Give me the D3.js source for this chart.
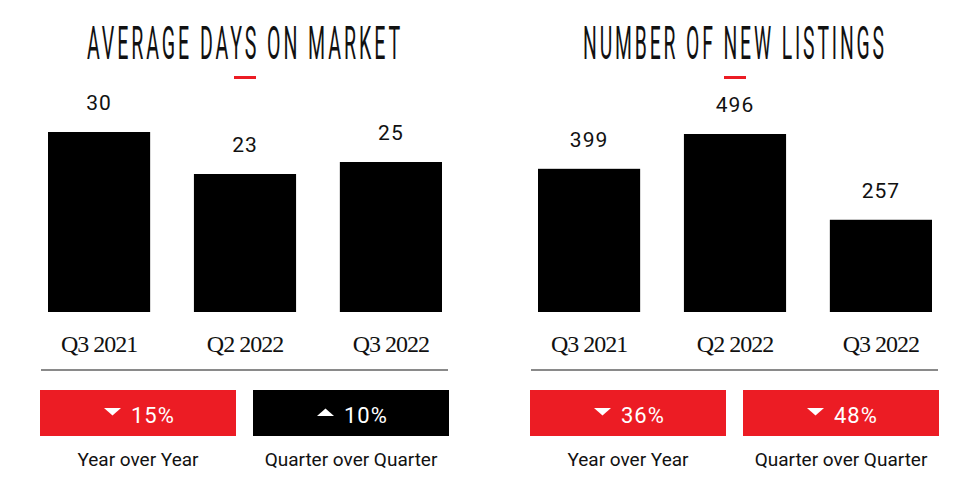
<!DOCTYPE html>
<html><head><meta charset="utf-8">
<script src="https://cdn.jsdelivr.net/npm/d3@7"></script>
<style>body{margin:0;background:#fff}svg{display:block}</style>
</head><body>
<svg id="c" width="980" height="490"></svg>
<script>
const categories = ["Q3 2021", "Q2 2022", "Q3 2022"];
const daysValues = [30, 23, 25];
const listingsValues = [399, 496, 257];
const titles = ["AVERAGE DAYS ON MARKET", "NUMBER OF NEW LISTINGS"];
const changeLabels = ["Year over Year", "Quarter over Quarter"];
const daysChanges = [{dir: "down", pct: "15%"}, {dir: "up", pct: "10%"}];
const listingsChanges = [{dir: "down", pct: "36%"}, {dir: "down", pct: "48%"}];

const RED = "#ec1c24";
const svg = d3.select("#c");

const panels = [
  {title: titles[0], values: daysValues, max: 30, changes: daysChanges, dx: 0},
  {title: titles[1], values: listingsValues, max: 496, changes: listingsChanges, dx: 490}
];

panels.forEach((p, pi) => {
  const g = svg.append("g").attr("transform", `translate(${p.dx},0)`);
  const titleW = pi === 0 ? 316 : 304;

  // title
  const t = g.append("text")
    .attr("font-family", "Roboto, 'DejaVu Sans', sans-serif")
    .attr("font-weight", 400)
    .attr("font-size", 47)
    .attr("letter-spacing", "7px")
    .attr("text-anchor", "middle")
    .attr("fill", "#111")
    .text(p.title);
  const w = t.node().getComputedTextLength();
  t.attr("transform", `translate(245,58.5) scale(${titleW / w},1)`);

  // red underline
  g.append("rect").attr("x", 234).attr("y", 76).attr("width", 22).attr("height", 3).attr("fill", RED);

  const x = d3.scaleBand().domain(categories).range([48, 442]).paddingInner(0.3).paddingOuter(0);
  const y = d3.scaleLinear().domain([0, p.max]).range([312, pi === 0 ? 132 : 134]);

  g.selectAll("rect.bar").data(p.values).join("rect")
    .attr("class", "bar")
    .attr("x", (d, i) => x(categories[i]))
    .attr("width", x.bandwidth())
    .attr("y", d => y(d))
    .attr("height", d => y(0) - y(d))
    .attr("fill", "#000");

  g.selectAll("text.val").data(p.values).join("text")
    .attr("class", "val")
    .attr("x", (d, i) => x(categories[i]) + x.bandwidth() / 2)
    .attr("y", d => y(d) - 22)
    .attr("text-anchor", "middle")
    .attr("font-family", "Roboto, sans-serif")
    .attr("font-size", 21)
    .attr("letter-spacing", "1px")
    .attr("fill", "#111")
    .text(d => d);

  // category axis labels
  const xAxis = d3.axisBottom(x).tickSize(0).tickPadding(0);
  const ax = g.append("g").attr("transform", "translate(0,352)").call(xAxis);
  ax.select(".domain").remove();
  ax.selectAll("text")
    .attr("dy", 0)
    .attr("font-family", "'Liberation Serif', 'DejaVu Serif', serif")
    .attr("font-size", 24)
    .attr("letter-spacing", "-1px")
    .attr("fill", "#111");

  // separator
  g.append("line").attr("x1", 41).attr("x2", 448).attr("y1", 370).attr("y2", 370)
    .attr("stroke", "#8a8a8a").attr("stroke-width", 2);

  // change boxes
  const boxX = [40, 253];
  p.changes.forEach((c, ci) => {
    const bx = boxX[ci], bw = 196, cx = bx + bw / 2;
    g.append("rect").attr("x", bx).attr("y", 390).attr("width", bw).attr("height", 46)
      .attr("fill", c.dir === "down" ? RED : "#000");
    const tri = c.dir === "down"
      ? `M${cx - 34},408 L${cx - 17},408 L${cx - 25.5},415.5 Z`
      : `M${cx - 34},416 L${cx - 17},416 L${cx - 25.5},408.5 Z`;
    g.append("path").attr("d", tri).attr("fill", "#fff");
    g.append("text").attr("x", cx - 7).attr("y", 423)
      .attr("font-family", "Roboto, sans-serif").attr("font-size", 22)
      .attr("letter-spacing", "1px").attr("fill", "#fff").text(c.pct);
    g.append("text").attr("x", cx).attr("y", 466).attr("text-anchor", "middle")
      .attr("font-family", "Roboto, sans-serif").attr("font-size", 19)
      .attr("fill", "#111").text(changeLabels[ci]);
  });
});
</script>
</body></html>
